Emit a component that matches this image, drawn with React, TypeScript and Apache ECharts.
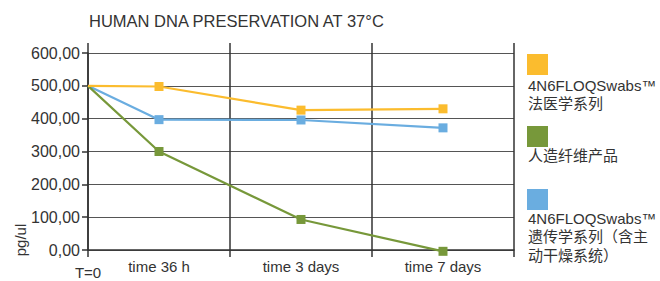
import React, { useEffect, useRef } from "react";
import * as echarts from "echarts";

const title = "HUMAN DNA PRESERVATION AT 37°C";
const categories = ["time 36 h", "time 3 days", "time 7 days"];
const startLabel = "T=0";
const timeSlots = [0, 1, 3, 5];
const yTicks = [0, 100, 200, 300, 400, 500, 600];
const seriesNames = [
  "4N6FLOQSwabs™\n法医学系列",
  "人造纤维产品",
  "4N6FLOQSwabs™\n遗传学系列（含主\n动干燥系统）",
];
const forensicValues = [500, 498, 426, 430];
const rayonValues = [500, 300, 93, -4];
const geneticValues = [500, 397, 396, 372];
const colors = ["#FBBC2E", "#77983A", "#6AADE0"];
const yLabel = "pg/ul";

export default function App() {
  const ref = useRef<HTMLDivElement>(null);
  useEffect(() => {
    if (!ref.current) return;
    const chart = echarts.init(ref.current, undefined, { renderer: "svg" });
    const allValues = [forensicValues, rayonValues, geneticValues];
    const font = "Liberation Sans, Arial, sans-serif";
    const legendTops = [54, 126, 189];
    const labelTops = [76, 146, 209];
    chart.setOption({
      animation: false,
      title: {
        text: title,
        left: 89,
        top: 12,
        padding: 0,
        textStyle: { fontSize: 16.5, fontWeight: "normal", color: "#333", fontFamily: font },
      },
      grid: [
        { left: 88, right: 146, top: 53, bottom: 31, outerBoundsMode: "none", containLabel: false },
        { left: 88, right: 146, top: 43, bottom: 31, outerBoundsMode: "none", containLabel: false },
      ],
      xAxis: [
        {
          type: "value",
          gridIndex: 0,
          min: 0,
          max: 6,
          interval: 1,
          axisLine: { show: false },
          axisTick: { show: false },
          splitLine: { show: false },
          axisLabel: {
            formatter: (v: number) => (v === 0 ? startLabel : ""),
            margin: 15,
            fontSize: 15,
            color: "#333",
            fontFamily: font,
          },
        },
        {
          type: "category",
          gridIndex: 1,
          data: categories,
          boundaryGap: true,
          axisLine: { show: true, lineStyle: { color: "#333", width: 1.5 } },
          axisTick: { show: true, length: 7, lineStyle: { color: "#333", width: 1.5 } },
          splitLine: { show: true, lineStyle: { color: "#333", width: 1.5 } },
          axisLabel: { margin: 9, fontSize: 15, color: "#333", fontFamily: font },
        },
      ],
      yAxis: [
        {
          type: "value",
          gridIndex: 0,
          min: yTicks[0],
          max: yTicks[yTicks.length - 1],
          interval: yTicks[1] - yTicks[0],
          axisLine: { show: true, lineStyle: { color: "#333", width: 1.5 } },
          axisTick: { show: true, length: 6, lineStyle: { color: "#333", width: 1.5 } },
          splitLine: { show: true, lineStyle: { color: "#555", width: 1.2 } },
          axisLabel: {
            formatter: (v: number) => v.toFixed(2).replace(".", ","),
            margin: 8,
            fontSize: 16,
            color: "#333",
            fontFamily: font,
          },
        },
        {
          type: "value",
          gridIndex: 1,
          show: false,
          min: 0,
          max: 1,
        },
      ],
      legend: seriesNames.map((n, i) => ({
        data: [n],
        orient: "vertical",
        left: 527,
        top: legendTops[i],
        padding: 0,
        itemWidth: 21,
        itemHeight: 21,
        selectedMode: false,
        icon: "rect",
        formatter: () => "",
        textStyle: { fontSize: 1 },
      })),
      graphic: seriesNames.map((n, i) => ({
        type: "text",
        left: 528,
        top: labelTops[i],
        style: {
          text: n,
          fontSize: 15,
          lineHeight: 18.5,
          fill: "#333",
          fontFamily: "Liberation Sans, Noto Sans CJK SC, sans-serif",
        },
      })).concat([
        {
          type: "text",
          x: 20,
          y: 240,
          rotation: Math.PI / 2,
          style: {
            text: yLabel,
            fontSize: 15,
            fill: "#333",
            align: "center",
            verticalAlign: "middle",
            fontFamily: font,
          },
        } as any,
      ]),
      series: allValues.map((vals, i) => ({
        name: seriesNames[i],
        type: "line",
        xAxisIndex: 0,
        yAxisIndex: 0,
        clip: false,
        data: vals.map((v, j) => ({
          value: [timeSlots[j], v],
          symbol: j === 0 ? "none" : "rect",
        })),
        symbol: "rect",
        symbolSize: 9,
        color: colors[i],
        lineStyle: { width: 2.2, color: colors[i] },
        itemStyle: { color: colors[i] },
        z: 3 + (2 - i),
      })),
    });
    return () => chart.dispose();
  }, []);
  return <div ref={ref} style={{ width: 660, height: 281, position: "absolute", left: 0, top: 0 }} />;
}
